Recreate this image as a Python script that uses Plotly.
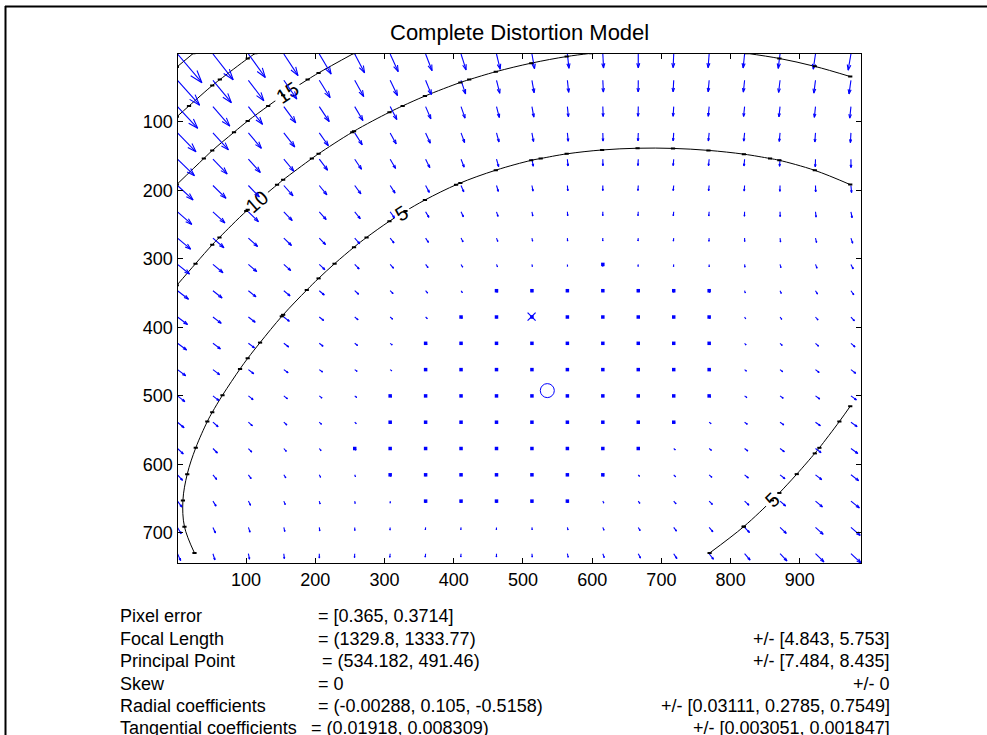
import numpy as np
import plotly.graph_objects as go

# ---- calibration results ----
image_size = [1024, 768]                 # nx, ny
focal_length = [1329.8, 1333.77]
focal_length_err = [4.843, 5.753]
principal_point = [534.182, 491.46]
principal_point_err = [7.484, 8.435]
skew = [0.0]
skew_err = [0.0]
radial_coeffs = [-0.00288, 0.105, -0.5158]      # k1, k2, k3
radial_coeffs_err = [0.03111, 0.2785, 0.7549]
tangential_coeffs = [0.01918, 0.008309]          # p1, p2
tangential_coeffs_err = [0.003051, 0.001847]
pixel_error = [0.365, 0.3714]

contour_levels = [5, 10, 15, 20, 25]
x_ticks = [100, 200, 300, 400, 500, 600, 700, 800, 900]
y_ticks = [100, 200, 300, 400, 500, 600, 700]

W, H = 987, 735
FONT = "Liberation Sans, Arial, Helvetica, sans-serif"
BLUE = "rgb(0,0,255)"

# ---- distortion field on a 20x20 pixel grid ----
nx, ny = image_size
mx = np.arange(0, nx - 1 + 1e-9, nx / 20)
my = np.arange(0, ny - 1 + 1e-9, ny / 20)
PX, PY = np.meshgrid(mx, my)

fc, cc, alpha_c = focal_length, principal_point, skew[0]
yn = (PY - cc[1]) / fc[1]
xn = (PX - cc[0]) / fc[0] - alpha_c * yn

k1, k2, k3 = radial_coeffs
p1, p2 = tangential_coeffs
r2 = xn ** 2 + yn ** 2
cdist = 1 + k1 * r2 + k2 * r2 ** 2 + k3 * r2 ** 3
a1 = 2 * xn * yn
a2 = r2 + 2 * xn ** 2
a3 = r2 + 2 * yn ** 2
xd = xn * cdist + p1 * a1 + p2 * a2
yd = yn * cdist + p1 * a3 + p2 * a1
px2 = fc[0] * (xd + alpha_c * yd) + cc[0]
py2 = fc[1] * yd + cc[1]
DX = px2 - PX
DY = py2 - PY
DR = np.sqrt(DX ** 2 + DY ** 2)

# ---- quiver geometry (auto-scaled so the longest arrow fits a cell) ----
X = (PX + 1).ravel()
Y = (PY + 1).ravel()
U = DX.ravel()
V = DY.ravel()
n = np.sqrt(X.size)
delx = (X.max() - X.min()) / n
dely = (Y.max() - Y.min()) / n
dl = delx ** 2 + dely ** 2
scale = 0.9 / np.max(np.sqrt((U ** 2 + V ** 2) / dl))
U = U * scale
V = V * scale

ha, hb, eps = 0.33, 0.33, np.finfo(float).eps
qx, qy = [], []
for x, y, u, v in zip(X, Y, U, V):
    qx += [x, x + u, None,
           x + u - ha * (u + hb * (v + eps)), x + u, x + u - ha * (u - hb * (v + eps)), None]
    qy += [y, y + v, None,
           y + v - ha * (v - hb * (u + eps)), y + v, y + v - ha * (v + hb * (u + eps)), None]

vals_x = np.array([q for q in qx if q is not None])
vals_y = np.array([q for q in qy if q is not None])
x_range = [vals_x.min(), vals_x.max()]
y_range = [vals_y.min(), vals_y.max()]

# plot box in page pixels
box_l, box_r, box_t, box_b = 177.5, 861.0, 54.0, 563.0
px_per_unit = (box_r - box_l) / (x_range[1] - x_range[0])
tiny = np.sqrt(U ** 2 + V ** 2) * px_per_unit < 2.0

# ---- points where contour lines cross the grid lines ----
cross_x, cross_y = [], []
for lev in contour_levels:
    for i in range(len(my)):
        for j in range(len(mx) - 1):
            z0, z1 = DR[i, j] - lev, DR[i, j + 1] - lev
            if z0 * z1 < 0:
                t = z0 / (z0 - z1)
                cross_x.append(mx[j] + t * (mx[j + 1] - mx[j]))
                cross_y.append(my[i])
    for i in range(len(my) - 1):
        for j in range(len(mx)):
            z0, z1 = DR[i, j] - lev, DR[i + 1, j] - lev
            if z0 * z1 < 0:
                t = z0 / (z0 - z1)
                cross_x.append(mx[j])
                cross_y.append(my[i] + t * (my[i + 1] - my[i]))

fig = go.Figure()

fig.add_trace(go.Scatter(x=qx, y=qy, mode="lines",
                         line=dict(color=BLUE, width=1.1), hoverinfo="skip", showlegend=False))
fig.add_trace(go.Scatter(x=X[tiny], y=Y[tiny], mode="markers",
                         marker=dict(symbol="square", size=3.5, color=BLUE, line=dict(width=0)),
                         hoverinfo="skip", showlegend=False))

fig.add_trace(go.Contour(
    x=mx, y=my, z=DR, autocontour=False,
    contours=dict(start=contour_levels[0], end=contour_levels[-1],
                  size=contour_levels[1] - contour_levels[0],
                  coloring="lines", showlabels=True,
                  labelfont=dict(family=FONT, size=20, color="black")),
    colorscale=[[0, "black"], [1, "black"]], line=dict(width=1),
    showscale=False, hoverinfo="skip"))

fig.add_trace(go.Scatter(x=cross_x, y=cross_y, mode="markers",
                         marker=dict(symbol="line-ew", size=3, line=dict(color="black", width=2)),
                         hoverinfo="skip", showlegend=False))

fig.add_trace(go.Scatter(x=[cc[0] + 1], y=[cc[1] + 1], mode="markers",
                         marker=dict(symbol="circle-open", size=14, color=BLUE, line=dict(width=1)),
                         hoverinfo="skip", showlegend=False))
fig.add_trace(go.Scatter(x=[(nx - 1) / 2 + 1], y=[(ny - 1) / 2 + 1], mode="markers",
                         marker=dict(symbol="x-thin-open", size=8, color=BLUE, line=dict(width=1.2, color=BLUE)),
                         hoverinfo="skip", showlegend=False))

axis_common = dict(showgrid=False, zeroline=False, showline=True, linecolor="black", linewidth=1.2,
                   mirror="ticks", ticks="inside", ticklen=5, tickcolor="black",
                   tickfont=dict(family=FONT, size=18, color="black"))
fig.update_xaxes(domain=[box_l / W, box_r / W], range=x_range, tickvals=x_ticks, **axis_common)
fig.update_yaxes(domain=[1 - box_b / H, 1 - box_t / H], range=[y_range[1], y_range[0]],
                 tickvals=y_ticks, **axis_common)

# ---- title and parameter summary ----
def fmt(v):
    return f"{v:g}"

def paper(xp, yp):
    return xp / W, 1 - yp / H

annotations = []
tx, ty = paper((box_l + box_r) / 2, 33)
annotations.append(dict(x=tx, y=ty, text="Complete Distortion Model", xanchor="center", yanchor="middle",
                        font=dict(family=FONT, size=22, color="black")))

rows = [
    ("Pixel error", "= [" + ", ".join(fmt(v) for v in pixel_error) + "]", ""),
    ("Focal Length", "= (" + ", ".join(fmt(v) for v in focal_length) + ")",
     "+/- [" + ", ".join(fmt(v) for v in focal_length_err) + "]"),
    ("Principal Point", "= (" + ", ".join(fmt(v) for v in principal_point) + ")",
     "+/- [" + ", ".join(fmt(v) for v in principal_point_err) + "]"),
    ("Skew", "= " + fmt(skew[0]), "+/- " + fmt(skew_err[0])),
    ("Radial coefficients", "= (" + ", ".join(fmt(v) for v in radial_coeffs) + ")",
     "+/- [" + ", ".join(fmt(v) for v in radial_coeffs_err) + "]"),
    ("Tangential coefficients", "= (" + ", ".join(fmt(v) for v in tangential_coeffs) + ")",
     "+/- [" + ", ".join(fmt(v) for v in tangential_coeffs_err) + "]"),
]
row_y = [616, 638.5, 661, 683.5, 706, 728]
eq_x = [316, 316, 320, 316, 316, 309]
for (lab, val, err), yy, ex in zip(rows, row_y, eq_x):
    for text, xx, anchor in ((lab, 118, "left"), (val, ex, "left"), (err, 892, "right")):
        if not text:
            continue
        ax_, ay_ = paper(xx, yy)
        annotations.append(dict(x=ax_, y=ay_, text=text, xanchor=anchor, yanchor="middle",
                                font=dict(family=FONT, size=18, color="black")))

for a in annotations:
    a.update(xref="paper", yref="paper", showarrow=False)

shapes = [
    dict(type="line", xref="paper", yref="paper", x0=5 / W, x1=1, y0=1 - 6.5 / H, y1=1 - 6.5 / H,
         line=dict(color="black", width=2)),
    dict(type="line", xref="paper", yref="paper", x0=5.5 / W, x1=5.5 / W, y0=0, y1=1 - 6 / H,
         line=dict(color="black", width=2)),
]

fig.update_layout(width=W, height=H, margin=dict(l=0, r=0, t=0, b=0),
                  paper_bgcolor="white", plot_bgcolor="white", showlegend=False,
                  annotations=annotations, shapes=shapes)

fig.write_html("out.html")
